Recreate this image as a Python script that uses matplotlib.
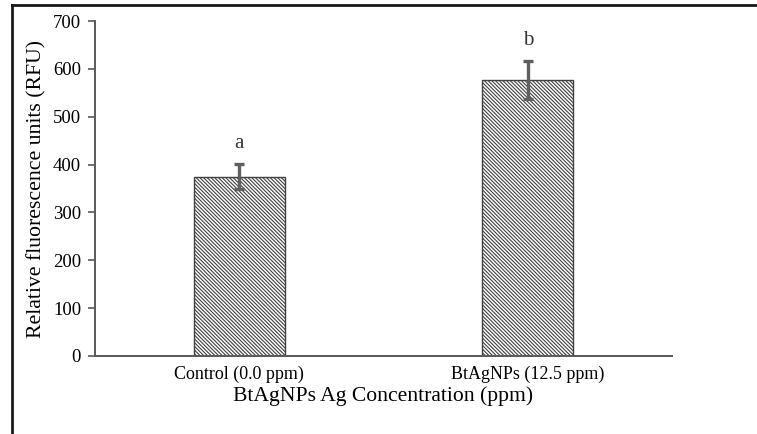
import matplotlib
matplotlib.use("Agg")
import matplotlib.pyplot as plt
from matplotlib.lines import Line2D

categories = ["Control (0.0 ppm)", "BtAgNPs (12.5 ppm)"]
values = [375, 577]
errors = [27, 40]
letters = ["a", "b"]
yticks = [0, 100, 200, 300, 400, 500, 600, 700]

plt.rcParams['font.family'] = ['Liberation Serif', 'DejaVu Serif']
plt.rcParams['hatch.color'] = '#3a3a3a'
plt.rcParams['hatch.linewidth'] = 0.8

fig = plt.figure(figsize=(7.57, 4.34), dpi=100)
ax = fig.add_axes([95/757, (434-356)/434, (672-95)/757, (356-21)/434])

x = list(range(len(categories)))
ax.bar(x, values, width=0.315, color='white', edgecolor='#404040',
       linewidth=1.0, hatch='\\' * 9, zorder=2)
ax.errorbar(x, values, yerr=errors, fmt='none', ecolor='#5f5f5f',
            elinewidth=2.4, capsize=3.3, capthick=2.4, zorder=3)
for xi, v, e, t in zip(x, values, errors, letters):
    ax.text(xi, v + e + 33, t, ha='center', va='baseline', fontsize=15,
            color='#333333')

ax.set_xlim(-0.5, 1.5)
ax.set_ylim(0, 700)
ax.set_yticks(yticks)
ax.set_xticks(x)
ax.set_xticklabels(categories, fontsize=13)
ax.tick_params(axis='y', labelsize=13.5, length=5, width=1.2, color='#595959', pad=5)
ax.tick_params(axis='x', length=0, pad=7)
for s in ['top', 'right']:
    ax.spines[s].set_visible(False)
for s in ['left', 'bottom']:
    ax.spines[s].set_color('#595959')
    ax.spines[s].set_linewidth(1.4)
ax.set_ylabel("Relative fluorescence units (RFU)", fontsize=15.7, labelpad=5)
ax.set_xlabel("BtAgNPs Ag Concentration (ppm)", fontsize=15.6, labelpad=2)

# outer frame (left and top edges visible)
fig.add_artist(Line2D([12/757, 12/757], [0, 1 - 5/434], transform=fig.transFigure,
                      color='#1a1a1a', linewidth=2.0))
fig.add_artist(Line2D([12/757, 1], [1 - 5/434, 1 - 5/434], transform=fig.transFigure,
                      color='#1a1a1a', linewidth=2.0))

fig.savefig("out.png", dpi=100)
